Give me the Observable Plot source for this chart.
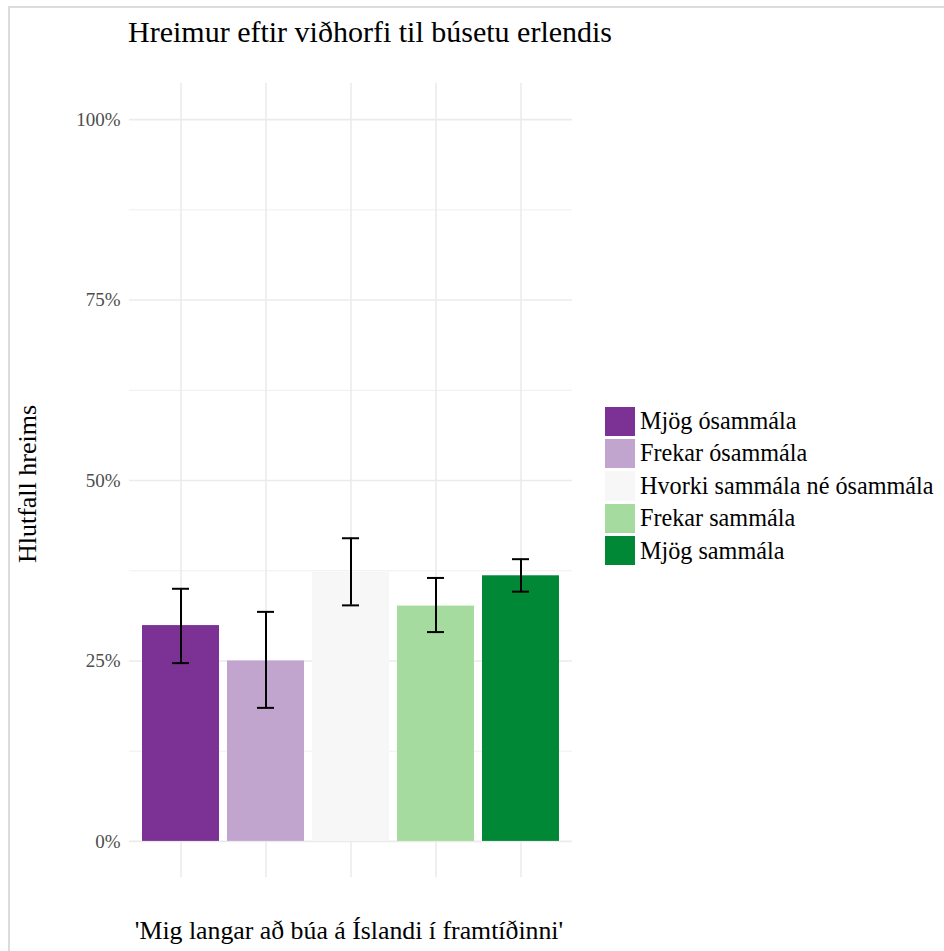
<!DOCTYPE html>
<html>
<head>
<meta charset="utf-8">
<script src="https://cdn.jsdelivr.net/npm/d3@7"></script>
<script src="https://cdn.jsdelivr.net/npm/@observablehq/plot@0.6"></script>
<style>
  html, body { margin: 0; padding: 0; background: #fff; }
  #page { position: relative; width: 944px; height: 951px; overflow: hidden; font-family: "Liberation Serif", "Times New Roman", serif; color: #000; }
  #frame { position: absolute; left: 8px; top: 6px; right: -4px; bottom: -4px; border-top: 2px solid #dcdcdc; border-left: 2px solid #dcdcdc; pointer-events: none; }
  #chart { position: absolute; left: 0; top: 0; }
  .txt { position: absolute; white-space: nowrap; line-height: 1; }
  #title { left: 128px; top: 17px; font-size: 30px; }
  #xtitle { left: 349px; top: 918px; font-size: 25.8px; transform: translateX(-50%); }
  #ytitle { left: 28px; top: 484px; font-size: 26px; transform-origin: 0 0; transform: rotate(-90deg) translate(-50%, -50%); }
  #legend { position: absolute; left: 605px; top: 405px; }
  .item { display: flex; align-items: center; height: 32.4px; }
  .key { width: 30px; height: 29.3px; margin-right: 5px; }
  .lab { font-size: 24.2px; line-height: 1; white-space: nowrap; }
</style>
</head>
<body>
<div id="page">
  <div id="chart"></div>
  <div id="title" class="txt">Hreimur eftir viðhorfi til búsetu erlendis</div>
  <div id="ytitle" class="txt">Hlutfall hreims</div>
  <div id="xtitle" class="txt">'Mig langar að búa á Íslandi í framtíðinni'</div>
  <div id="legend"></div>
  <div id="frame"></div>
</div>
<script>
// Answer categories for 'Mig langar að búa á Íslandi í framtíðinni'
const categories = [
  "Mjög ósammála",
  "Frekar ósammála",
  "Hvorki sammála né ósammála",
  "Frekar sammála",
  "Mjög sammála"
];
// Share with an accent (hreimur) in each group, with error bar limits
const shares = [0.299, 0.250, 0.373, 0.326, 0.368];
const lower  = [0.247, 0.185, 0.327, 0.290, 0.346];
const upper  = [0.350, 0.318, 0.420, 0.365, 0.391];
// PRGn diverging palette
const colors = ["#7b3294", "#c2a5cf", "#f7f7f7", "#a6dba0", "#008837"];
// Axis breaks
const yTicks = [0, 0.25, 0.5, 0.75, 1];
const yMinorTicks = [0.125, 0.375, 0.625, 0.875];

const rows = categories.map((category, i) => ({
  category, share: shares[i], lower: lower[i], upper: upper[i]
}));

const grid = "#ebebeb";
const chart = Plot.plot({
  width: 944,
  height: 951,
  marginLeft: 129,
  marginRight: 372,
  marginTop: 83,
  marginBottom: 74,
  style: { fontFamily: "'Liberation Serif', 'Times New Roman', serif", background: "transparent" },
  x: { domain: categories, paddingInner: 0.1, paddingOuter: 0.15, axis: null },
  y: { domain: [-0.05, 1.05], axis: null },
  color: { domain: categories, range: colors },
  marks: [
    Plot.ruleY(yMinorTicks, { stroke: grid, strokeWidth: 0.8 }),
    Plot.ruleY(yTicks, { stroke: grid, strokeWidth: 1.6 }),
    Plot.ruleX(categories, { x: d => d, stroke: grid, strokeWidth: 1.6 }),
    Plot.axisY(yTicks, {
      tickSize: 0, tickPadding: 9, tickFormat: d3.format(".0%"),
      fontSize: 19, fill: "#4d4d4d"
    }),
    Plot.barY(rows, { x: "category", y: "share", fill: "category" }),
    Plot.ruleX(rows, { x: "category", y1: "lower", y2: "upper", stroke: "#000", strokeWidth: 2 }),
    Plot.tickY(rows, { x: "category", y: "lower", stroke: "#000", strokeWidth: 2, insetLeft: 30, insetRight: 30 }),
    Plot.tickY(rows, { x: "category", y: "upper", stroke: "#000", strokeWidth: 2, insetLeft: 30, insetRight: 30 })
  ]
});
document.getElementById("chart").appendChild(chart);

// Legend built from the chart's color scale
const colorScale = chart.scale("color");
const legend = document.getElementById("legend");
for (const c of categories) {
  const item = document.createElement("div");
  item.className = "item";
  const key = document.createElement("div");
  key.className = "key";
  key.style.background = colorScale.apply(c);
  const lab = document.createElement("div");
  lab.className = "lab";
  lab.textContent = c;
  item.appendChild(key);
  item.appendChild(lab);
  legend.appendChild(item);
}
</script>
</body>
</html>
